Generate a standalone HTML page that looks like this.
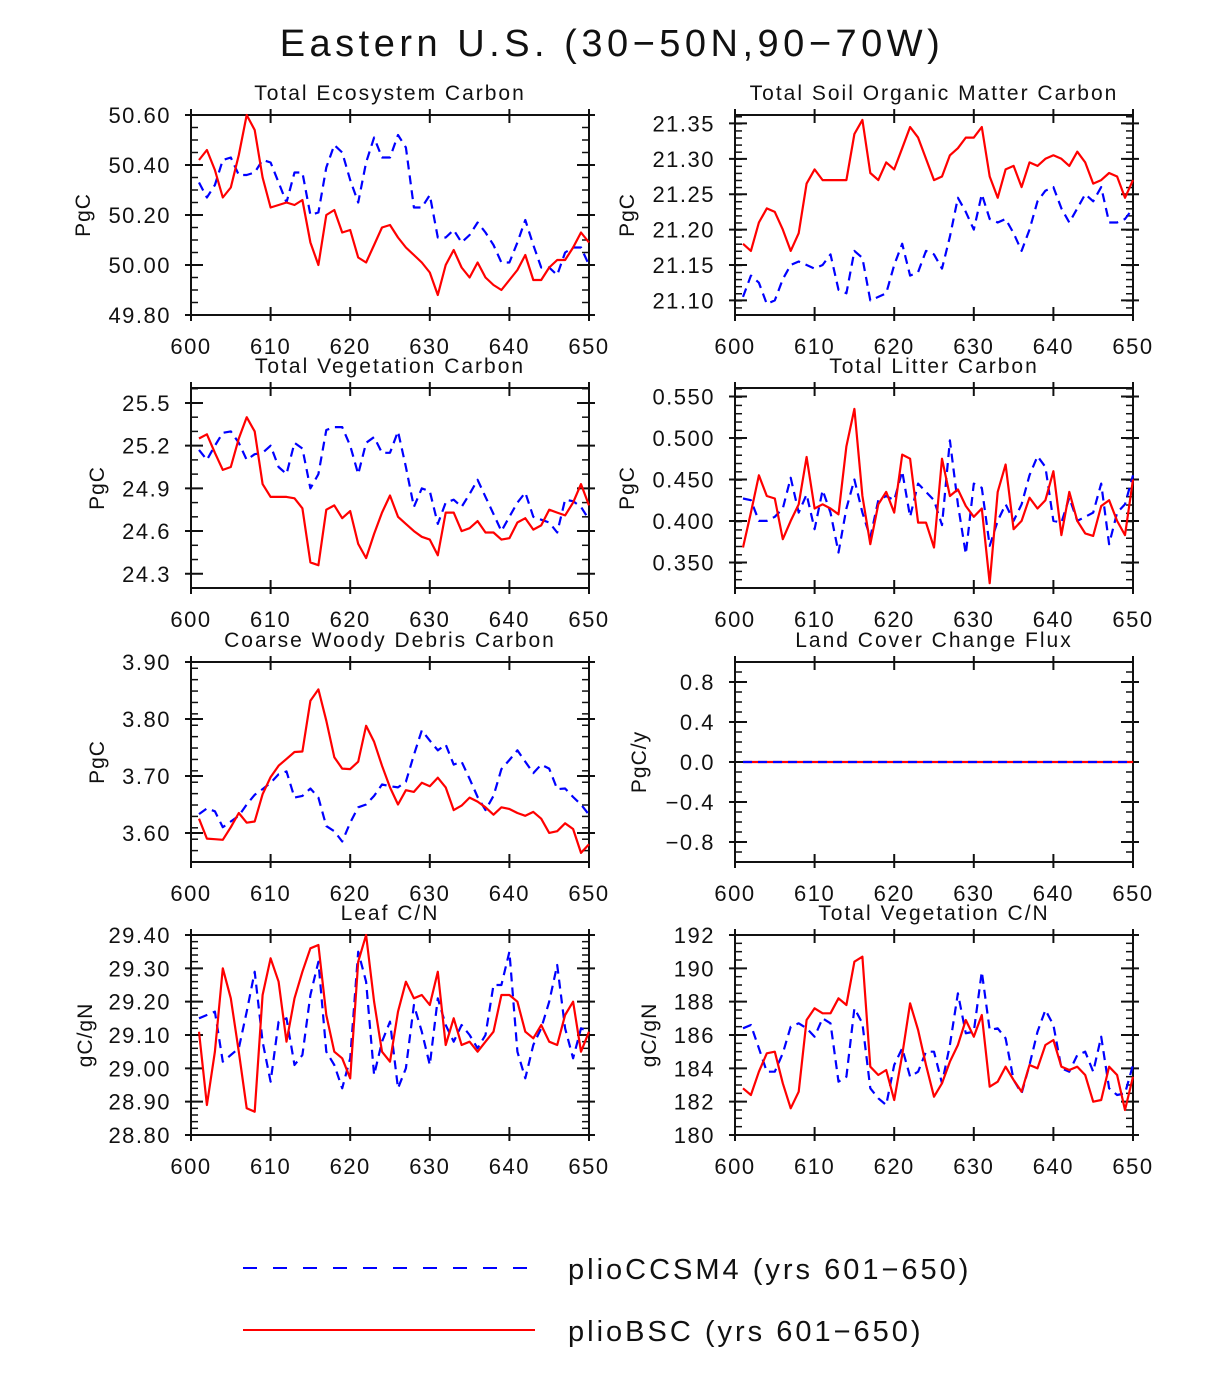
<!DOCTYPE html>
<html><head><meta charset="utf-8">
<style>
html,body{margin:0;padding:0;background:#fff;}
svg text{font-family:"Liberation Sans",sans-serif;fill:#111;}
</style></head>
<body>
<svg id="fig" width="1224" height="1368" viewBox="0 0 1224 1368" xmlns="http://www.w3.org/2000/svg">
<text x="612" y="56" text-anchor="middle" font-size="38" letter-spacing="4.5">Eastern U.S. (30−50N,90−70W)</text>
<g id="panels"></g>
<g>
<line x1="243" y1="1268" x2="535" y2="1268" stroke="#0000ff" stroke-width="2" stroke-dasharray="14,16"/>
<text x="568" y="1279" font-size="29" letter-spacing="3">plioCCSM4 (yrs 601−650)</text>
<line x1="243" y1="1330" x2="535" y2="1330" stroke="#ff0000" stroke-width="2"/>
<text x="568" y="1341" font-size="29" letter-spacing="3">plioBSC (yrs 601−650)</text>
</g>
</svg>
<script>
const years = Array.from({length:50},(_,i)=>601+i);
const xTicks = [600,610,620,630,640,650];

const ecoRed = [50.42,50.46,50.38,50.27,50.31,50.44,50.60,50.54,50.35,50.23,50.24,50.25,50.24,50.26,50.09,50.00,50.20,50.22,50.13,50.14,50.03,50.01,50.08,50.15,50.16,50.11,50.07,50.04,50.01,49.97,49.88,50.00,50.06,49.99,49.95,50.01,49.95,49.92,49.90,49.94,49.98,50.04,49.94,49.94,49.99,50.02,50.02,50.07,50.13,50.09];
const ecoBlue = [50.33,50.27,50.32,50.42,50.43,50.36,50.36,50.37,50.42,50.41,50.33,50.25,50.37,50.37,50.20,50.21,50.39,50.48,50.45,50.34,50.25,50.41,50.51,50.43,50.43,50.52,50.47,50.23,50.23,50.28,50.11,50.11,50.14,50.09,50.12,50.17,50.13,50.08,50.01,50.01,50.09,50.18,50.08,49.99,49.99,49.96,50.05,50.07,50.07,50.00];
const ecoTicks = ["49.80","50.00","50.20","50.40","50.60"];

const somRed = [21.18,21.17,21.21,21.23,21.225,21.20,21.17,21.195,21.265,21.285,21.27,21.27,21.27,21.27,21.335,21.355,21.28,21.27,21.295,21.285,21.315,21.345,21.33,21.30,21.27,21.275,21.305,21.315,21.33,21.33,21.345,21.275,21.245,21.285,21.29,21.26,21.295,21.29,21.30,21.305,21.30,21.29,21.31,21.295,21.265,21.27,21.28,21.275,21.245,21.27];
const somBlue = [21.105,21.135,21.125,21.095,21.10,21.13,21.15,21.155,21.15,21.145,21.15,21.165,21.115,21.11,21.17,21.16,21.10,21.105,21.11,21.15,21.18,21.135,21.14,21.17,21.165,21.145,21.19,21.245,21.225,21.20,21.25,21.215,21.21,21.215,21.195,21.17,21.20,21.24,21.255,21.26,21.23,21.21,21.23,21.25,21.24,21.26,21.21,21.21,21.215,21.23];
const somTicks = ["21.10","21.15","21.20","21.25","21.30","21.35"];

const vegRed = [25.25,25.28,25.15,25.03,25.05,25.25,25.40,25.30,24.93,24.84,24.84,24.84,24.83,24.76,24.38,24.36,24.75,24.78,24.69,24.74,24.51,24.41,24.58,24.73,24.85,24.70,24.65,24.60,24.56,24.54,24.43,24.73,24.73,24.60,24.62,24.67,24.59,24.59,24.54,24.55,24.66,24.69,24.61,24.64,24.75,24.73,24.71,24.80,24.93,24.78];
const vegBlue = [25.17,25.10,25.20,25.29,25.30,25.22,25.10,25.14,25.15,25.20,25.05,25.00,25.22,25.18,24.90,25.00,25.31,25.33,25.33,25.20,25.00,25.22,25.26,25.15,25.15,25.30,25.05,24.77,24.90,24.88,24.65,24.80,24.82,24.77,24.86,24.96,24.84,24.72,24.60,24.70,24.80,24.87,24.70,24.68,24.66,24.59,24.82,24.81,24.77,24.68];
const vegTicks = ["24.3","24.6","24.9","25.2","25.5"];

const litRed = [0.368,0.410,0.455,0.430,0.427,0.378,0.400,0.420,0.477,0.415,0.420,0.415,0.408,0.490,0.535,0.430,0.372,0.420,0.435,0.410,0.480,0.475,0.398,0.398,0.368,0.475,0.430,0.438,0.418,0.405,0.415,0.325,0.435,0.468,0.390,0.400,0.428,0.415,0.425,0.460,0.383,0.435,0.400,0.385,0.382,0.418,0.425,0.400,0.383,0.450];
const litBlue = [0.427,0.425,0.400,0.400,0.405,0.415,0.452,0.410,0.432,0.390,0.437,0.410,0.362,0.415,0.450,0.410,0.380,0.425,0.430,0.425,0.460,0.405,0.445,0.435,0.425,0.395,0.497,0.420,0.360,0.445,0.440,0.370,0.400,0.420,0.400,0.420,0.455,0.478,0.465,0.400,0.398,0.428,0.400,0.405,0.410,0.445,0.372,0.410,0.420,0.455];
const litTicks = ["0.350","0.400","0.450","0.500","0.550"];

const cwdRed = [3.625,3.590,3.589,3.588,3.610,3.635,3.618,3.620,3.668,3.698,3.718,3.730,3.742,3.743,3.832,3.852,3.797,3.733,3.713,3.712,3.725,3.788,3.760,3.718,3.680,3.650,3.675,3.672,3.688,3.682,3.697,3.680,3.640,3.648,3.662,3.655,3.645,3.632,3.645,3.642,3.635,3.630,3.637,3.625,3.600,3.603,3.617,3.607,3.565,3.580];
const cwdBlue = [3.633,3.643,3.638,3.610,3.620,3.630,3.650,3.667,3.677,3.688,3.703,3.708,3.662,3.665,3.678,3.662,3.612,3.603,3.585,3.618,3.645,3.650,3.665,3.685,3.682,3.680,3.690,3.737,3.780,3.762,3.745,3.755,3.720,3.725,3.695,3.663,3.640,3.665,3.712,3.728,3.745,3.725,3.705,3.720,3.713,3.677,3.678,3.663,3.650,3.632];
const cwdTicks = ["3.60","3.70","3.80","3.90"];

const lccRed = Array(50).fill(0);
const lccBlue = Array(50).fill(0);
const lccTicks = ["−0.8","−0.4","0.0","0.4","0.8"];

const leafRed = [29.11,28.89,29.05,29.30,29.21,29.05,28.88,28.87,29.22,29.33,29.26,29.08,29.21,29.29,29.36,29.37,29.16,29.05,29.03,28.97,29.32,29.40,29.20,29.05,29.02,29.17,29.26,29.21,29.22,29.19,29.29,29.07,29.15,29.07,29.08,29.05,29.08,29.11,29.22,29.22,29.20,29.11,29.09,29.13,29.08,29.07,29.16,29.20,29.05,29.11];
const leafBlue = [29.15,29.16,29.17,29.02,29.04,29.06,29.17,29.29,29.08,28.96,29.14,29.15,29.01,29.04,29.22,29.32,29.05,29.01,28.94,29.03,29.35,29.26,28.98,29.08,29.14,28.94,29.00,29.19,29.11,29.01,29.21,29.13,29.08,29.13,29.10,29.06,29.10,29.25,29.25,29.35,29.05,28.97,29.07,29.12,29.20,29.31,29.12,29.03,29.12,29.11];
const leafTicks = ["28.80","28.90","29.00","29.10","29.20","29.30","29.40"];

const cnRed = [182.8,182.4,183.8,184.9,185.0,183.1,181.6,182.6,186.9,187.6,187.3,187.3,188.2,187.8,190.4,190.7,184.1,183.6,183.9,182.1,184.8,187.9,186.3,184.2,182.3,183.1,184.4,185.4,186.9,185.9,187.2,182.9,183.2,184.1,183.3,182.6,184.2,184.0,185.4,185.7,184.1,183.9,184.1,183.6,182.0,182.1,184.1,183.6,181.5,183.5];
const cnBlue = [186.4,186.6,185.2,183.8,183.8,184.9,186.5,186.7,186.4,185.9,187.0,186.7,183.2,183.5,187.6,186.7,182.8,182.2,181.8,184.2,185.2,183.5,183.8,185.0,185.0,183.1,185.4,188.5,186.1,186.2,189.8,186.3,186.4,185.8,183.3,182.5,184.2,186.2,187.5,186.6,184.0,183.8,184.8,185.0,183.8,185.9,182.8,182.4,182.5,184.2];
const cnTicks = ["180","182","184","186","188","190","192"];

const NS="http://www.w3.org/2000/svg";
const root=document.getElementById('panels');
function mk(tag,attrs,parent){const e=document.createElementNS(NS,tag);for(const k in attrs)e.setAttribute(k,attrs[k]);(parent||root).appendChild(e);return e;}

function panel(cfg){
  const L=cfg.x, T=cfg.y, W=398, H=200;
  const g=mk('g',{});
  
  
  const sx=v=>L+(v-600)/50*W;
  const sy=v=>T+H-(v-cfg.ymin)/(cfg.ymax-cfg.ymin)*H;
  for(let v=cfg.ymin; v<=cfg.ymax+1e-9; v+=cfg.minor){
    const y=sy(v);
    mk('line',{x1:L,x2:L+7,y1:y,y2:y,stroke:'#111','stroke-width':1.5},g);
    mk('line',{x1:L+W-7,x2:L+W,y1:y,y2:y,stroke:'#111','stroke-width':1.5},g);
  }
  cfg.ticks.forEach(t=>{
    const v=parseFloat(t.replace('−','-'));const y=sy(v);
    mk('line',{x1:L-6,x2:L+12,y1:y,y2:y,stroke:'#111','stroke-width':2},g);
    mk('line',{x1:L+W-12,x2:L+W+6,y1:y,y2:y,stroke:'#111','stroke-width':2},g);
    const tx=mk('text',{x:L-20,y:y+8,'text-anchor':'end','font-size':22,'letter-spacing':'1.5'},g);
    tx.textContent=t;
    
    
  });
  xTicks.forEach(v=>{
    const x=sx(v);
    mk('line',{x1:x,x2:x,y1:T-6,y2:T+8,stroke:'#111','stroke-width':2},g);
    mk('line',{x1:x,x2:x,y1:T+H-8,y2:T+H+6,stroke:'#111','stroke-width':2},g);
    const tx=mk('text',{x:x,y:T+H+39,'text-anchor':'middle','font-size':22,'letter-spacing':'1.5'},g);
    tx.textContent=v;
    
    
  });
  mk('rect',{x:L,y:T,width:W,height:H,fill:'none',stroke:'#111','stroke-width':2},g);
  const ti=mk('text',{x:L+W/2,y:T-15,'text-anchor':'middle','font-size':21,'letter-spacing':'2'},g);
  ti.textContent=cfg.title;
  
  
  const yl=mk('text',{x:0,y:0,'text-anchor':'middle','font-size':21,'letter-spacing':'1',transform:`translate(${cfg.ylx},${T+H/2}) rotate(-90)`},g);
  yl.textContent=cfg.ylabel;
  
  
  const line=(arr,color,dash)=>{
    const d=arr.map((v,i)=>(i?'L':'M')+sx(years[i]).toFixed(1)+','+sy(v).toFixed(1)).join('');
    const p=mk('path',{d:d,fill:'none',stroke:color,'stroke-width':2.2,'stroke-linejoin':'round'},g);
    if(dash)p.setAttribute('stroke-dasharray','9,6');
    return p;
  };
  const pb=line(cfg.blue,'#0000ff',true);
  
  
  const pr=line(cfg.red,'#ff0000',false);
  
  
  if(cfg.blueTop){ g.appendChild(pb); }
}

panel({name:'total-ecosystem-carbon',x:191,y:115,title:'Total Ecosystem Carbon',ylabel:'PgC',ylx:90,ymin:49.8,ymax:50.6,minor:0.05,ticks:ecoTicks,red:ecoRed,blue:ecoBlue});
panel({name:'total-soil-organic-matter-carbon',x:735,y:115,title:'Total Soil Organic Matter Carbon',ylabel:'PgC',ylx:634,ymin:21.0794,ymax:21.3619,minor:0.01,ticks:somTicks,red:somRed,blue:somBlue});
panel({name:'total-vegetation-carbon',x:191,y:388,title:'Total Vegetation Carbon',ylabel:'PgC',ylx:104,ymin:24.2,ymax:25.605,minor:0.1,ticks:vegTicks,red:vegRed,blue:vegBlue});
panel({name:'total-litter-carbon',x:735,y:388,title:'Total Litter Carbon',ylabel:'PgC',ylx:634,ymin:0.3192,ymax:0.5602,minor:0.01,ticks:litTicks,red:litRed,blue:litBlue});
panel({name:'coarse-woody-debris-carbon',x:191,y:662,title:'Coarse Woody Debris Carbon',ylabel:'PgC',ylx:104,ymin:3.549,ymax:3.90,minor:0.02,ticks:cwdTicks,red:cwdRed,blue:cwdBlue});
panel({name:'land-cover-change-flux',x:735,y:662,title:'Land Cover Change Flux',ylabel:'PgC/y',ylx:646,ymin:-1,ymax:1,minor:0.1,ticks:lccTicks,red:lccRed,blue:lccBlue,blueTop:true});
panel({name:'leaf-cn',x:191,y:935,title:'Leaf C/N',ylabel:'gC/gN',ylx:92,ymin:28.8,ymax:29.4,minor:0.02,ticks:leafTicks,red:leafRed,blue:leafBlue});
panel({name:'total-vegetation-cn',x:735,y:935,title:'Total Vegetation C/N',ylabel:'gC/gN',ylx:656,ymin:180,ymax:192,minor:0.5,ticks:cnTicks,red:cnRed,blue:cnBlue});
</script>
</body></html>
